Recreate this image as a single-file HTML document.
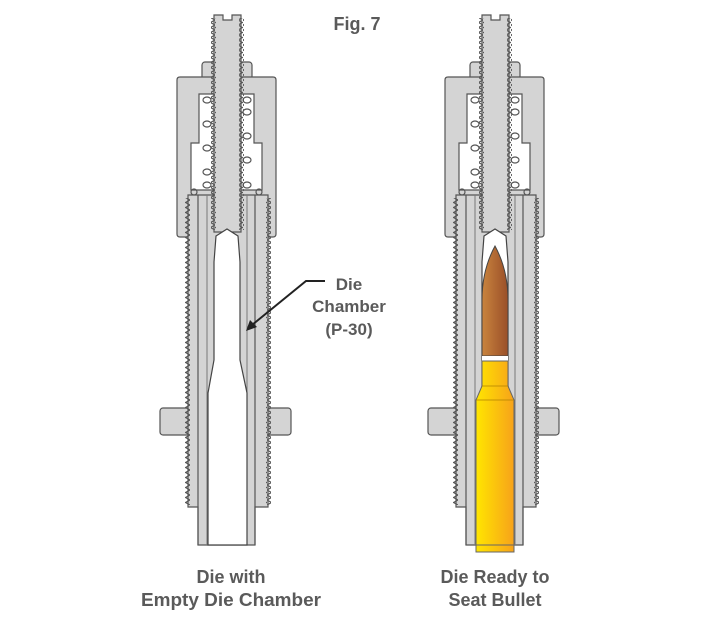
<!DOCTYPE html>
<html><head><style>
html,body{margin:0;padding:0;background:#fff;}
svg{display:block;}
text{font-family:"Liberation Sans Narrow","Liberation Sans",sans-serif;font-weight:bold;fill:#5a5a5a;}
</style></head><body>
<svg width="715" height="639" viewBox="0 0 715 639" xmlns="http://www.w3.org/2000/svg">
<defs>
<linearGradient id="bul" x1="0" x2="1"><stop offset="0" stop-color="#c9843e"/><stop offset="1" stop-color="#9a4f28"/></linearGradient>
<linearGradient id="cas" x1="0" x2="1"><stop offset="0" stop-color="#ffe600"/><stop offset="1" stop-color="#f7a21a"/></linearGradient>
<pattern id="thL" width="5" height="5" patternUnits="userSpaceOnUse"><path d="M5 0 L0.5 2.5 L5 5" fill="none" stroke="#555" stroke-width="1.2"/></pattern>
<g id="die">
 <rect x="160" y="408" width="131" height="27" rx="3" fill="#d4d4d4" stroke="#555" stroke-width="1.2"/>
 <rect x="202" y="62" width="50" height="20" rx="3" fill="#d4d4d4" stroke="#555" stroke-width="1.2"/>
 <path d="M180 77 H273 Q276 77 276 80 V234 Q276 237 273 237 H180 Q177 237 177 234 V80 Q177 77 180 77 Z" fill="#d4d4d4" stroke="#555" stroke-width="1.2"/>
 <path d="M199 94 H254 V143 H262 V190 H191 V143 H199 Z" fill="#fff" stroke="#555" stroke-width="1.2"/>
 <path d="M188 195 H268 V507 H255 V545 H198 V507 H188 Z" fill="#d4d4d4" stroke="#555" stroke-width="1.2"/>
 <rect x="185" y="198" width="5" height="307" fill="url(#thL)"/>
 <rect x="266" y="198" width="5" height="307" fill="url(#thL)" transform="translate(537 0) scale(-1 1)"/>
 <line x1="198" y1="195" x2="198" y2="545" stroke="#555" stroke-width="1.2"/>
 <line x1="255" y1="195" x2="255" y2="545" stroke="#555" stroke-width="1.2"/>
 <line x1="207" y1="195" x2="207" y2="545" stroke="#777" stroke-width="1"/>
 <line x1="247" y1="195" x2="247" y2="545" stroke="#777" stroke-width="1"/>
 <path d="M214 15 H223 V20 H232 V15 H241 V232 H214 Z" fill="#d4d4d4" stroke="#555" stroke-width="1.2"/>
 <rect x="211" y="18" width="5" height="212" fill="url(#thL)"/>
 <rect x="239" y="18" width="5" height="212" fill="url(#thL)" transform="translate(483 0) scale(-1 1)"/>
 <g fill="none" stroke="#555" stroke-width="1.2">
  <ellipse cx="207" cy="100" rx="4" ry="3"/><ellipse cx="207" cy="124" rx="4" ry="3"/><ellipse cx="207" cy="148" rx="4" ry="3"/><ellipse cx="207" cy="172" rx="4" ry="3"/><ellipse cx="207" cy="185" rx="4" ry="3"/>
  <ellipse cx="247" cy="100" rx="4" ry="3"/><ellipse cx="247" cy="112" rx="4" ry="3"/><ellipse cx="247" cy="136" rx="4" ry="3"/><ellipse cx="247" cy="160" rx="4" ry="3"/><ellipse cx="247" cy="185" rx="4" ry="3"/>
  <circle cx="194" cy="192" r="3"/><circle cx="259" cy="192" r="3"/>
 </g>
</g>
</defs>
<use href="#die"/>
<path d="M216 236 L227 229 L238 236 L240 262 L240 360 L247 393 V545 H208 V393 L214 360 L214 262 Z" fill="#fff" stroke="#444" stroke-width="1.2"/>
<use href="#die" transform="translate(268 0)"/>
<path d="M484 236 L495 229 L506 236 L508 262 V545 H482 V262 Z" fill="#fff" stroke="#444" stroke-width="1.2"/>
<path d="M495 246 Q508 270 508 300 V356 H482 V300 Q482 270 495 246 Z" fill="url(#bul)" stroke="#444" stroke-width="1"/>
<rect x="482" y="356" width="26" height="5" fill="#fff"/>
<path d="M482 361 H508 V386 L514 400 V545 H476 V400 L482 386 Z" fill="url(#cas)" stroke="#666" stroke-width="1"/>
<line x1="482" y1="386" x2="508" y2="386" stroke="#b08000" stroke-width="0.8"/>
<line x1="476" y1="400" x2="514" y2="400" stroke="#b08000" stroke-width="0.8"/>
<rect x="476" y="545" width="38" height="7" fill="url(#cas)" stroke="#666" stroke-width="1"/>
<path d="M325 281 H306 L252 325" fill="none" stroke="#222" stroke-width="2"/>
<path d="M246 331 L250 320 L257 327 Z" fill="#222"/>
<text x="357" y="30" font-size="18" text-anchor="middle">Fig. 7</text>
<text x="349" y="290" font-size="17" text-anchor="middle">Die</text>
<text x="349" y="312" font-size="17" text-anchor="middle">Chamber</text>
<text x="349" y="335" font-size="17" text-anchor="middle">(P-30)</text>
<text x="231" y="583" font-size="18" text-anchor="middle">Die with</text>
<text x="231" y="606" font-size="18" text-anchor="middle" textLength="180" lengthAdjust="spacingAndGlyphs">Empty Die Chamber</text>
<text x="495" y="583" font-size="18" text-anchor="middle">Die Ready to</text>
<text x="495" y="606" font-size="18" text-anchor="middle">Seat Bullet</text>
</svg>
</body></html>
